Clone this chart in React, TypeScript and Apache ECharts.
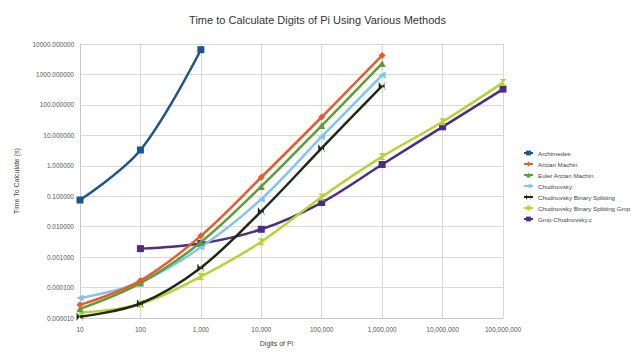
import React, { useEffect, useRef } from "react";
import * as echarts from "echarts";

const digits = [10, 100, 1000, 10000, 100000, 1000000, 10000000, 100000000];

const archimedes = [0.075, 3.3, 6500, null, null, null, null, null];
const arctanMachin = [0.000027, 0.00017, 0.005, 0.42, 40, 4200, null, null];
const eulerArctanMachin = [0.00002, 0.00014, 0.0031, 0.21, 21, 2300, null, null];
const chudnovsky = [0.000045, 0.00015, 0.0021, 0.08, 9, 950, null, null];
const chudBinSplit = [0.000011, 0.00003, 0.00045, 0.032, 3.8, 420, null, null];
const chudBinSplitGmp = [0.000015, 0.000029, 0.00023, 0.0032, 0.095, 2.0, 28, 540];
const gmpChudnovsky = [null, 0.0019, 0.0028, 0.0082, 0.062, 1.1, 19, 330];

const seriesNames = [
  "Archimedes",
  "Arctan Machin",
  "Euler Arctan Machin",
  "Chudnovsky",
  "Chudnovsky Binary Splitting",
  "Chudnovsky Binary Splitting Gmp",
  "Gmp-Chudnovsky.c",
];
const seriesValues = [
  archimedes,
  arctanMachin,
  eulerArctanMachin,
  chudnovsky,
  chudBinSplit,
  chudBinSplitGmp,
  gmpChudnovsky,
];
const colors = ["#1d5590", "#ea5a2e", "#5d9e36", "#82c4ee", "#1f2a14", "#b6d334", "#4d2c86"];
const symbols = [
  "rect",
  "diamond",
  "triangle",
  "path://M0,5L10,0L10,10Z",
  "path://M0,0L5,5L0,10Z M10,0L5,5L10,10Z M0,0L1.5,0L1.5,10L0,10Z M8.5,0L10,0L10,10L8.5,10Z",
  "path://M0,0L10,0L5,5L10,10L0,10L5,5Z",
  "rect",
];

export default function App() {
  const ref = useRef<HTMLDivElement>(null);
  useEffect(() => {
    const chart = echarts.init(ref.current!, null, { renderer: "svg" });
    const series = seriesNames.map((name, i) => ({
      name,
      type: "line",
      smooth: 0.35,
      data: digits
        .map((d, j) => [d, seriesValues[i][j]])
        .filter((p) => p[1] !== null),
      symbol: symbols[i],
      symbolSize: 7,
      lineStyle: { width: 2.5, color: colors[i] },
      itemStyle: { color: colors[i] },
      z: 10 - i,
    }));
    chart.setOption({
      animation: false,
      color: colors,
      title: {
        text: "Time to Calculate Digits of Pi Using Various Methods",
        left: "center",
        top: 9,
        textStyle: { fontSize: 11, fontWeight: "normal", color: "#333", fontFamily: "Liberation Sans" },
      },
      grid: { left: 80, right: 132, top: 44, bottom: 36 },
      legend: {
        orient: "vertical",
        left: 518,
        top: 145,
        itemWidth: 9,
        itemHeight: 6,
        itemGap: 5,
        textStyle: { fontSize: 6.2, color: "#444", fontFamily: "Liberation Sans" },
        data: seriesNames,
      },
      xAxis: {
        type: "log",
        logBase: 10,
        min: 10,
        max: 100000000,
        name: "Digits of Pi",
        nameLocation: "middle",
        nameGap: 22,
        nameTextStyle: { fontSize: 7, color: "#444", fontFamily: "Liberation Sans", padding: [0, 30, 0, 0] },
        axisLine: { lineStyle: { color: "#c8c8c8" } },
        axisTick: { show: false },
        splitLine: { show: true, lineStyle: { color: "#d8d8d8" } },
        axisLabel: {
          fontSize: 6.5,
          color: "#555",
          fontFamily: "Liberation Sans",
          margin: 8,
          formatter: (v: number) => Math.round(v).toLocaleString("en-US"),
        },
      },
      yAxis: {
        type: "log",
        logBase: 10,
        min: 0.00001,
        max: 10000,
        name: "Time To Calculate (s)",
        nameLocation: "middle",
        nameGap: 60,
        nameTextStyle: { fontSize: 7, color: "#444", fontFamily: "Liberation Sans" },
        axisLine: { show: true, lineStyle: { color: "#c8c8c8" } },
        axisTick: { show: false },
        splitLine: { show: true, lineStyle: { color: "#d8d8d8" } },
        axisLabel: {
          fontSize: 6.5,
          color: "#555",
          fontFamily: "Liberation Sans",
          margin: 6,
          formatter: (v: number) => v.toFixed(6),
        },
      },
      series,
    });
    return () => chart.dispose();
  }, []);
  return <div ref={ref} style={{ width: 635, height: 354, position: "absolute", left: 0, top: 0 }} />;
}
